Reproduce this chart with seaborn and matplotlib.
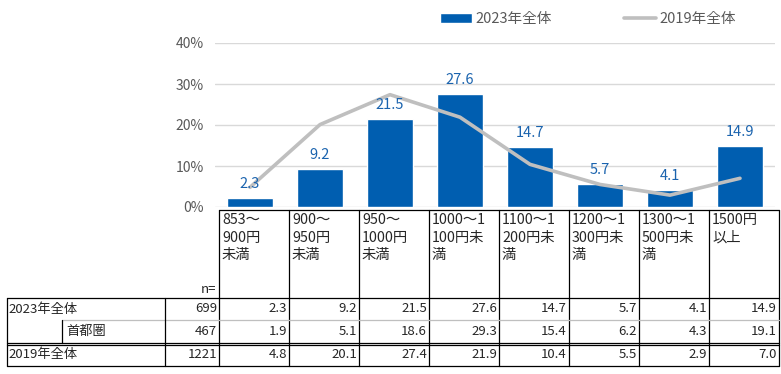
import matplotlib
matplotlib.use('Agg')
import matplotlib.pyplot as plt
import seaborn as sns
import numpy as np
import pandas as pd

# data
categories = ['853～\n900円\n未満', '900～\n950円\n未満', '950～\n1000円\n未満',
              '1000～1\n100円未\n満', '1100～1\n200円未\n満', '1200～1\n300円未\n満',
              '1300～1\n500円未\n満', '1500円\n以上']
share_2023 = [2.3, 9.2, 21.5, 27.6, 14.7, 5.7, 4.1, 14.9]
share_shutoken = [1.9, 5.1, 18.6, 29.3, 15.4, 6.2, 4.3, 19.1]
share_2019 = [4.8, 20.1, 27.4, 21.9, 10.4, 5.5, 2.9, 7.0]
row_labels = ['2023年全体', '首都圏', '2019年全体']
row_n = [699, 467, 1221]
y_ticks = [0, 10, 20, 30, 40]

BLUE = '#005EB0'
LABEL_BLUE = '#1A63AE'
GRAY = '#BFBFBF'

sns.set_style('white')
plt.rcParams['font.family'] = ['Noto Sans CJK JP', 'DejaVu Sans']

W, H = 781, 374
fig = plt.figure(figsize=(W / 100, H / 100), dpi=100)

# chart area in pixel coordinates
x0, x1 = 215, 775
y_top, y_zero = 43, 207
ax = fig.add_axes([x0 / W, 1 - y_zero / H, (x1 - x0) / W, (y_zero - y_top) / H])

df = pd.DataFrame({'cat': range(len(categories)), 'v2023': share_2023, 'v2019': share_2019})
sns.barplot(data=df, x='cat', y='v2023', color=BLUE, width=0.66, saturation=1,
            ax=ax, label='2023年全体', zorder=2)
sns.lineplot(x=np.arange(len(share_2019)), y=share_2019, color=GRAY, linewidth=2.6,
             ax=ax, label='2019年全体', zorder=3)

ax.bar_label(ax.containers[0], fmt='%.1f', padding=5, color=LABEL_BLUE, fontsize=10.5)

ax.set_xlim(-0.5, len(categories) - 0.5)
ax.set_ylim(0, 40)
ax.set_yticks(y_ticks)
ax.set_yticklabels([f'{t}%' for t in y_ticks], color='#595959', fontsize=10)
ax.tick_params(axis='y', length=0, pad=8)
ax.set_xticks([])
ax.set_xlabel('')
ax.set_ylabel('')
ax.grid(axis='y', color='#D9D9D9', linewidth=1, zorder=0)
ax.set_axisbelow(True)
for s in ax.spines.values():
    s.set_visible(False)

handles, labels = ax.get_legend_handles_labels()
order = [labels.index('2023年全体'), labels.index('2019年全体')]
ax.legend([handles[i] for i in order], [labels[i] for i in order],
          ncol=2, frameon=False, loc='center', bbox_to_anchor=(588 / W, 1 - 19 / H),
          bbox_transform=fig.transFigure, fontsize=10.5, handlelength=2.2,
          columnspacing=5.0, handletextpad=0.2, labelcolor='#595959')

# table below the chart
tab = fig.add_axes([0, 0, 1, 1])
tab.set_xlim(0, W)
tab.set_ylim(H, 0)
tab.axis('off')

col_left = 219
col_w = 70
n_cols = len(categories)
right = col_left + col_w * n_cols
hdr_top, hdr_bot = 210, 298
r1, r2, r2b, r3b = 320, 343, 345, 366
left = 7
lab_div = 165
sub_div = 62
lw = 0.9
k = 'black'

# header box
tab.plot([col_left, right], [hdr_top, hdr_top], color=k, lw=lw)
for i in range(n_cols + 1):
    xx = col_left + col_w * i
    tab.plot([xx, xx], [hdr_top, r3b], color=k, lw=lw)
# row lines
tab.plot([left, right], [hdr_bot, hdr_bot], color=k, lw=lw)
tab.plot([sub_div, right], [r1, r1], color='#BFBFBF', lw=lw)
tab.plot([left, right], [r2, r2], color=k, lw=lw)
tab.plot([left, right], [r2b, r2b], color=k, lw=lw)
tab.plot([left, right], [r3b, r3b], color=k, lw=lw)
tab.plot([left, left], [hdr_bot, r3b], color=k, lw=lw)
tab.plot([lab_div, lab_div], [hdr_bot, r3b], color=k, lw=lw)
tab.plot([sub_div, sub_div], [r1, r2], color=k, lw=lw)

fs = 9.5
for i, c in enumerate(categories):
    tab.text(col_left + col_w * i + 3, hdr_top + 3, c, ha='left', va='top',
             fontsize=10.3, linespacing=1.32)
tab.text(col_left - 3, hdr_bot - 2, 'n=', ha='right', va='bottom', fontsize=fs)

rows = [share_2023, share_shutoken, share_2019]
row_mid = [(hdr_bot + r1) / 2, (r1 + r2) / 2, (r2b + r3b) / 2 - 1]
row_x = [left + 1, sub_div + 4, left + 1]
for j, vals in enumerate(rows):
    ym = row_mid[j]
    tab.text(row_x[j], ym, row_labels[j], ha='left', va='center', fontsize=fs)
    tab.text(col_left - 2, ym, str(row_n[j]), ha='right', va='center', fontsize=fs)
    for i, v in enumerate(vals):
        tab.text(col_left + col_w * (i + 1) - 2, ym, f'{v:.1f}', ha='right',
                 va='center', fontsize=fs)

fig.savefig('out.png', dpi=100)
